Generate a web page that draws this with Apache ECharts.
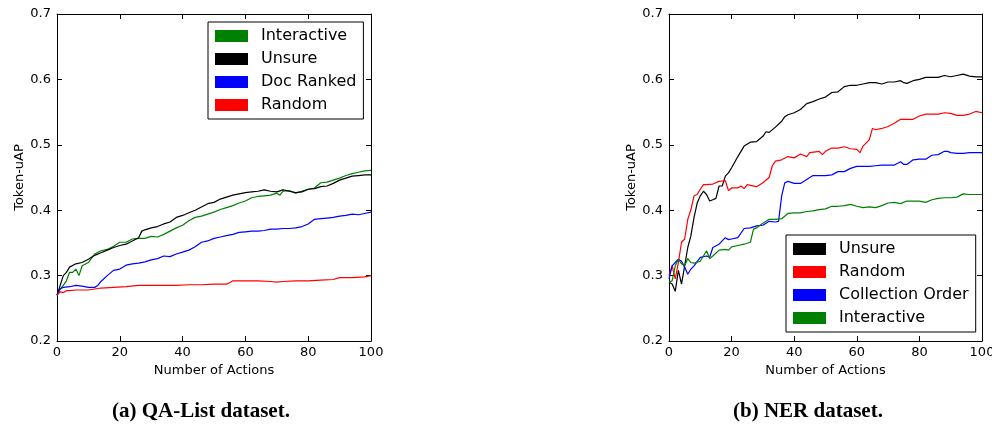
<!DOCTYPE html>
<html>
<head>
<meta charset="utf-8">
<script src="https://cdn.jsdelivr.net/npm/echarts@6/dist/echarts.min.js"></script>
<style>
  html, body { margin: 0; padding: 0; background: #fff; }
  #chart { width: 992px; height: 425px; }
</style>
</head>
<body>
<div id="chart"></div>
<script>
// (a) QA-List dataset, [action, Token-uAP]
var qaInteractive = [[0,0.270],[1,0.279],[2,0.285],[3,0.292],[4,0.305],[5,0.305],[6,0.310],[7,0.300],[8,0.315],[10,0.320],[12,0.333],[14,0.338],[16,0.340],[18,0.345],[20,0.351],[22,0.351],[24,0.356],[26,0.357],[28,0.357],[30,0.360],[32,0.359],[34,0.363],[36,0.368],[38,0.373],[40,0.377],[42,0.384],[44,0.389],[46,0.391],[48,0.394],[50,0.397],[52,0.401],[54,0.404],[56,0.407],[58,0.411],[60,0.414],[62,0.419],[64,0.421],[66,0.422],[68,0.423],[70,0.426],[71,0.423],[72,0.429],[74,0.430],[76,0.426],[78,0.429],[80,0.432],[82,0.434],[84,0.442],[86,0.443],[88,0.446],[90,0.449],[92,0.453],[94,0.456],[96,0.458],[98,0.460],[100,0.461]];
var qaUnsure = [[0,0.270],[1,0.285],[2,0.300],[3,0.305],[4,0.313],[6,0.318],[8,0.320],[10,0.325],[12,0.331],[14,0.335],[16,0.339],[18,0.343],[20,0.346],[22,0.348],[24,0.353],[26,0.358],[27,0.368],[28,0.370],[30,0.373],[32,0.375],[34,0.379],[36,0.382],[38,0.389],[40,0.392],[42,0.396],[44,0.400],[46,0.405],[48,0.410],[50,0.412],[52,0.417],[54,0.420],[56,0.423],[58,0.425],[60,0.427],[62,0.428],[64,0.429],[66,0.431],[68,0.429],[70,0.428],[72,0.431],[74,0.429],[76,0.427],[78,0.428],[80,0.432],[82,0.433],[84,0.436],[86,0.437],[88,0.441],[90,0.446],[92,0.449],[94,0.452],[96,0.453],[98,0.454],[100,0.454]];
var qaDocRanked = [[0,0.270],[1,0.280],[2,0.282],[4,0.283],[6,0.285],[8,0.284],[10,0.282],[12,0.282],[13,0.285],[14,0.291],[16,0.300],[18,0.308],[20,0.310],[22,0.316],[24,0.318],[26,0.319],[28,0.321],[30,0.324],[32,0.326],[34,0.330],[36,0.329],[38,0.333],[40,0.336],[42,0.339],[44,0.344],[46,0.351],[48,0.353],[50,0.357],[52,0.359],[54,0.361],[56,0.363],[58,0.366],[60,0.367],[62,0.368],[64,0.368],[66,0.369],[68,0.371],[70,0.371],[72,0.372],[74,0.372],[76,0.373],[78,0.375],[80,0.379],[82,0.386],[84,0.387],[86,0.388],[88,0.389],[90,0.391],[92,0.392],[94,0.394],[96,0.393],[98,0.395],[100,0.397]];
var qaRandom = [[0,0.270],[1,0.275],[2,0.274],[3,0.277],[4,0.277],[6,0.278],[10,0.278],[14,0.281],[18,0.282],[22,0.283],[26,0.285],[30,0.285],[34,0.285],[38,0.285],[42,0.286],[46,0.286],[50,0.287],[54,0.287],[55,0.289],[56,0.292],[60,0.292],[64,0.292],[68,0.291],[70,0.290],[72,0.291],[76,0.292],[80,0.292],[84,0.293],[88,0.294],[90,0.297],[94,0.297],[98,0.298],[100,0.300]];

// (b) NER dataset
var nerUnsure = [[0,0.290],[1,0.287],[2,0.276],[3,0.308],[4,0.287],[5,0.315],[6,0.343],[7,0.361],[8,0.389],[9,0.411],[10,0.422],[11,0.429],[12,0.424],[13,0.414],[14,0.416],[15,0.418],[16,0.437],[17,0.437],[18,0.452],[19,0.457],[20,0.465],[22,0.482],[24,0.498],[26,0.504],[28,0.505],[30,0.513],[31,0.520],[32,0.519],[34,0.527],[36,0.536],[37,0.543],[38,0.546],[40,0.549],[42,0.554],[44,0.563],[46,0.566],[48,0.570],[50,0.573],[52,0.580],[54,0.581],[56,0.589],[58,0.591],[60,0.591],[62,0.593],[64,0.595],[66,0.595],[68,0.593],[70,0.596],[72,0.596],[74,0.598],[75,0.595],[76,0.594],[78,0.598],[80,0.600],[82,0.603],[84,0.603],[86,0.603],[88,0.606],[90,0.604],[92,0.606],[94,0.608],[96,0.605],[98,0.604],[100,0.604]];
var nerRandom = [[0,0.300],[1,0.315],[2,0.295],[3,0.320],[4,0.351],[5,0.356],[6,0.386],[7,0.401],[8,0.422],[9,0.424],[10,0.432],[11,0.439],[12,0.439],[14,0.440],[16,0.444],[18,0.445],[19,0.430],[20,0.434],[22,0.434],[23,0.437],[24,0.433],[25,0.439],[26,0.438],[28,0.436],[30,0.442],[32,0.450],[33,0.468],[34,0.475],[36,0.477],[38,0.482],[40,0.480],[42,0.486],[44,0.482],[45,0.488],[48,0.490],[49,0.485],[50,0.490],[52,0.495],[54,0.495],[56,0.497],[58,0.494],[60,0.493],[61,0.488],[62,0.498],[64,0.508],[65,0.525],[66,0.523],[68,0.525],[70,0.528],[72,0.533],[74,0.539],[76,0.539],[78,0.539],[80,0.544],[82,0.547],[84,0.547],[86,0.547],[88,0.549],[90,0.548],[92,0.545],[94,0.545],[96,0.547],[98,0.551],[100,0.549]];
var nerCollection = [[0,0.295],[1,0.315],[2,0.320],[3,0.325],[4,0.322],[5,0.313],[6,0.302],[7,0.310],[8,0.315],[10,0.328],[12,0.330],[13,0.328],[14,0.343],[16,0.348],[18,0.358],[19,0.355],[20,0.356],[22,0.358],[24,0.372],[26,0.373],[28,0.376],[30,0.377],[32,0.383],[34,0.382],[35,0.383],[36,0.422],[37,0.442],[38,0.444],[40,0.441],[42,0.441],[44,0.447],[46,0.453],[48,0.453],[50,0.453],[52,0.454],[54,0.459],[56,0.459],[58,0.464],[60,0.467],[62,0.467],[64,0.467],[66,0.468],[68,0.469],[70,0.469],[72,0.469],[74,0.474],[75,0.470],[76,0.470],[78,0.477],[80,0.478],[82,0.478],[84,0.484],[86,0.485],[88,0.490],[89,0.490],[90,0.488],[92,0.487],[94,0.487],[96,0.488],[98,0.488],[100,0.488]];
var nerInteractive = [[0,0.290],[1,0.292],[2,0.315],[3,0.325],[4,0.318],[5,0.315],[6,0.326],[7,0.320],[8,0.319],[10,0.322],[12,0.338],[13,0.326],[14,0.330],[16,0.339],[18,0.340],[19,0.339],[20,0.344],[22,0.346],[24,0.348],[26,0.351],[27,0.371],[28,0.373],[30,0.380],[32,0.386],[34,0.386],[36,0.387],[38,0.395],[40,0.396],[42,0.396],[44,0.398],[46,0.399],[48,0.401],[50,0.402],[52,0.406],[54,0.406],[56,0.407],[58,0.409],[60,0.406],[62,0.404],[64,0.405],[66,0.404],[68,0.407],[70,0.411],[72,0.412],[74,0.410],[76,0.414],[78,0.414],[80,0.414],[82,0.412],[84,0.416],[86,0.418],[88,0.419],[90,0.419],[92,0.420],[94,0.425],[96,0.424],[98,0.424],[100,0.424]];

var legendA = ['Interactive', 'Unsure', 'Doc Ranked', 'Random'];
var legendB = ['Unsure', 'Random', 'Collection Order', 'Interactive'];
var captions = ['(a) QA-List dataset.', '(b) NER dataset.'];

var colors = {
    'Interactive': '#008000',
    'Unsure': '#000000',
    'Doc Ranked': '#0000ff',
    'Collection Order': '#0000ff',
    'Random': '#ff0000'
};

var font = 'DejaVu Sans';

function xAxisFor(idx, pos) {
    var main = pos === 'bottom';
    return {
        type: 'value', gridIndex: idx, position: pos,
        min: 0, max: 100, interval: 20,
        name: main ? 'Number of Actions' : '',
        nameLocation: 'middle', nameGap: 21,
        nameTextStyle: { fontFamily: font, fontSize: 13, color: '#000' },
        axisLine: { show: true, onZero: false, lineStyle: { color: '#000', width: 1 } },
        axisTick: { show: true, inside: true, length: 5, lineStyle: { color: '#000' } },
        axisLabel: { show: main, fontFamily: font, fontSize: 13, color: '#000', margin: 5 },
        splitLine: { show: false }
    };
}

function yAxisFor(idx, pos) {
    var main = pos === 'left';
    return {
        type: 'value', gridIndex: idx, position: pos,
        min: 0.2, max: 0.7, interval: 0.1,
        name: main ? 'Token-uAP' : '',
        nameLocation: 'middle', nameGap: 31,
        nameTextStyle: { fontFamily: font, fontSize: 13, color: '#000' },
        axisLine: { show: true, onZero: false, lineStyle: { color: '#000', width: 1 } },
        axisTick: { show: true, inside: true, length: 5, lineStyle: { color: '#000' } },
        axisLabel: { show: main, fontFamily: font, fontSize: 13, color: '#000', margin: 6,
            formatter: function (v) { return v.toFixed(1); } },
        splitLine: { show: false }
    };
}

function lineSeries(name, data, xi, yi) {
    return {
        name: name, type: 'line', data: data,
        xAxisIndex: xi, yAxisIndex: yi,
        showSymbol: false, symbol: 'none', animation: false,
        lineStyle: { color: colors[name], width: 1.2 },
        itemStyle: { color: colors[name] }
    };
}

function legendFor(names, left, top) {
    return {
        data: names.map(function (n) { return { name: n, icon: 'rect' }; }),
        orient: 'vertical', left: left, top: top,
        itemWidth: 33, itemHeight: 12, itemGap: 7,
        padding: [6, 7, 6, 7],
        borderColor: '#000', borderWidth: 1, borderRadius: 0,
        backgroundColor: '#fff',
        textStyle: { fontFamily: font, fontSize: 16, color: '#000', padding: [0, 0, 0, 8] },
        selectedMode: false
    };
}

var dom = document.getElementById('chart');
var myChart = echarts.init(dom);
var option = {
    backgroundColor: '#fff',
    animation: false,
    grid: [
        { left: 57, right: 621, top: 14, bottom: 84, outerBoundsMode: 'none' },
        { left: 669, right: 10, top: 14, bottom: 84, outerBoundsMode: 'none' }
    ],
    xAxis: [xAxisFor(0, 'bottom'), xAxisFor(0, 'top'), xAxisFor(1, 'bottom'), xAxisFor(1, 'top')],
    yAxis: [yAxisFor(0, 'left'), yAxisFor(0, 'right'), yAxisFor(1, 'left'), yAxisFor(1, 'right')],
    legend: [legendFor(legendA, 208, 22), legendFor(legendB, 786, 235)],
    series: [
        lineSeries('Interactive', qaInteractive, 0, 0),
        lineSeries('Unsure', qaUnsure, 0, 0),
        lineSeries('Doc Ranked', qaDocRanked, 0, 0),
        lineSeries('Random', qaRandom, 0, 0),
        lineSeries('Unsure', nerUnsure, 2, 2),
        lineSeries('Random', nerRandom, 2, 2),
        lineSeries('Collection Order', nerCollection, 2, 2),
        lineSeries('Interactive', nerInteractive, 2, 2)
    ],
    graphic: [
        { type: 'text', left: 112, top: 401,
          style: { text: captions[0], font: 'bold 21px "Liberation Serif"', fill: '#000' } },
        { type: 'text', left: 733, top: 401,
          style: { text: captions[1], font: 'bold 21px "Liberation Serif"', fill: '#000' } }
    ]
};
if (option && typeof option === "object") {
    myChart.setOption(option, true);
}
</script>
</body>
</html>
